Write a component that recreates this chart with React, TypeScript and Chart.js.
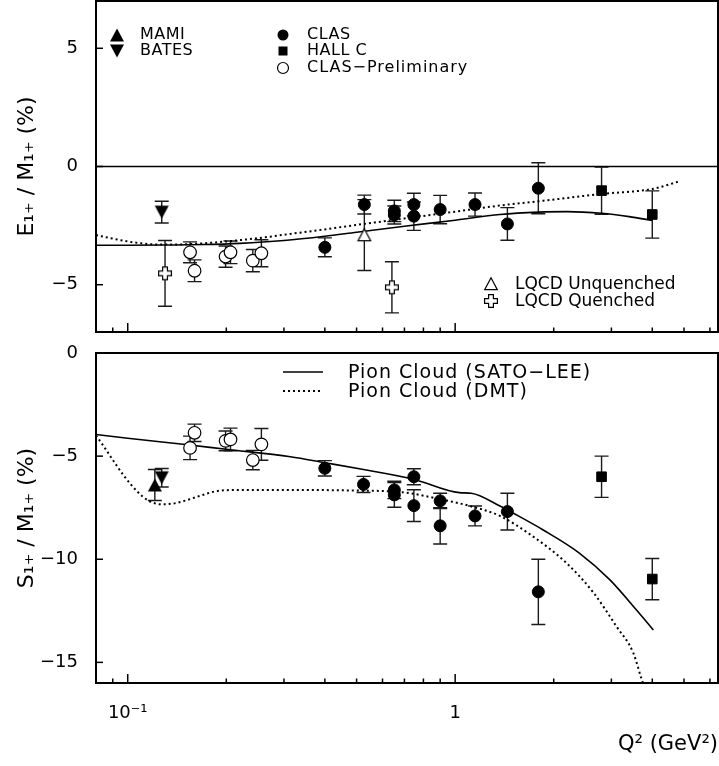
import React, { useEffect, useRef } from 'react';
import { Chart, registerables } from 'chart.js';

Chart.register(...registerables);

const FONT = '"DejaVu Sans", "Liberation Sans", sans-serif';
const INK = '#000000';

// ---------- axes ----------
const X_MIN = 0.08;
const X_MAX = 6.35;
const xTickValues = [0.08, 0.09, 0.1, 0.2, 0.3, 0.4, 0.5, 0.6, 0.7, 0.8, 0.9, 1, 2, 3, 4, 5, 6];
const xMajorValues = [0.1, 1];
const xLabelValues = [0.1, 1];
const xLabelTexts = ['10⁻¹', '1'];

const emMin = -7;
const emMax = 7;
const emTickValues = [-5, 0, 5];
const smMin = -16;
const smMax = 0;
const smTickValues = [-15, -10, -5, 0];

// ---------- E1+/M1+ (top panel) ----------
const emClasQ = [0.40, 0.528, 0.652, 0.652, 0.748, 0.748, 0.90, 1.15, 1.444, 1.795];
const emClasVal = [-3.42, -1.61, -1.88, -2.05, -1.61, -2.1, -1.82, -1.61, -2.43, -0.92];
const emClasErr = [0.4, 0.4, 0.45, 0.38, 0.48, 0.6, 0.6, 0.49, 0.69, 1.08];

const emHallCQ = [2.8, 4.0];
const emHallCVal = [-1.02, -2.03];
const emHallCErr = [1.0, 1.0];

const emPrelQ = [0.155, 0.160, 0.199, 0.206, 0.241, 0.256];
const emPrelVal = [-3.63, -4.41, -3.81, -3.63, -3.98, -3.67];
const emPrelErr = [0.44, 0.46, 0.45, 0.48, 0.47, 0.57];

const emBatesQ = [0.127];
const emBatesVal = [-1.93];
const emBatesErr = [0.46];

const emLqcdUnqQ = [0.528];
const emLqcdUnqVal = [-2.9];
const emLqcdUnqErr = [1.5];

const emLqcdQQ = [0.130, 0.641];
const emLqcdQVal = [-4.52, -5.11];
const emLqcdQErr = [1.39, 1.08];

const emSatoQ = [0.08, 0.1, 0.13, 0.17, 0.22, 0.3, 0.4, 0.5, 0.7, 1.0, 1.37, 1.8, 2.2, 2.8, 3.4, 4.0];
const emSatoVal = [-3.33, -3.33, -3.32, -3.3, -3.25, -3.13, -2.95, -2.78, -2.53, -2.27, -2.03, -1.93, -1.91, -1.98, -2.12, -2.28];

const emDmtQ = [0.08, 0.09, 0.1, 0.11, 0.125, 0.14, 0.17, 0.2, 0.25, 0.314, 0.4, 0.5, 0.7, 1.0, 1.37, 1.8, 2.8, 4.0, 4.86];
const emDmtVal = [-2.9, -3.05, -3.17, -3.25, -3.3, -3.3, -3.25, -3.17, -3.03, -2.85, -2.66, -2.47, -2.2, -1.91, -1.65, -1.47, -1.16, -0.95, -0.62];

// ---------- S1+/M1+ (bottom panel) ----------
const smClasQ = [0.40, 0.525, 0.652, 0.652, 0.748, 0.748, 0.90, 0.90, 1.15, 1.444, 1.795];
const smClasVal = [-5.59, -6.37, -6.64, -6.88, -6.0, -7.4, -7.17, -8.38, -7.9, -7.69, -11.58];
const smClasErr = [0.37, 0.39, 0.42, 0.6, 0.39, 0.77, 0.37, 0.88, 0.48, 0.89, 1.58];

const smHallCQ = [2.8, 4.0];
const smHallCVal = [-6.0, -10.96];
const smHallCErr = [1.0, 1.0];

const smPrelQ = [0.155, 0.160, 0.199, 0.206, 0.241, 0.256];
const smPrelVal = [-4.6, -3.87, -4.26, -4.19, -5.19, -4.43];
const smPrelErr = [0.57, 0.42, 0.48, 0.55, 0.47, 0.77];

const smMamiQ = [0.121];
const smMamiVal = [-6.4];
const smMamiErr = [0.75];

const smBatesQ = [0.127];
const smBatesVal = [-6.05];
const smBatesErr = [0.45];

const smSatoQ = [0.08, 0.1, 0.15, 0.2, 0.314, 0.4, 0.52, 0.75, 1.03, 1.12, 1.37, 1.507, 1.858, 2.4, 2.97, 3.58, 4.03];
const smSatoVal = [-3.95, -4.13, -4.44, -4.67, -5.03, -5.32, -5.64, -6.13, -6.77, -6.8, -7.42, -7.77, -8.58, -9.71, -11.0, -12.46, -13.43];

const smDmtQ = [0.08, 0.0846, 0.0887, 0.097, 0.107, 0.116, 0.127, 0.142, 0.163, 0.188, 0.221, 0.314, 0.5, 0.69, 0.9, 1.11, 1.37, 1.73, 2.19, 2.65, 3.11, 3.5, 3.7, 3.8];
const smDmtVal = [-4.0, -4.54, -5.03, -5.92, -6.72, -7.17, -7.34, -7.26, -6.97, -6.69, -6.64, -6.64, -6.67, -6.75, -7.09, -7.42, -7.9, -8.9, -10.19, -11.64, -13.26, -14.54, -15.75, -16.3];

// ---------- helpers ----------
const pts = (q: number[], v: number[]) => q.map((x, i) => ({ x, y: v[i] }));
const minus = (s: string) => s.replace('-', '\u2212');

function makeCanvas(w: number, h: number, draw: (g: CanvasRenderingContext2D) => void) {
  const c = document.createElement('canvas');
  c.width = w;
  c.height = h;
  const g = c.getContext('2d') as CanvasRenderingContext2D;
  draw(g);
  return c;
}

function makeMarkers() {
  const triUp = makeCanvas(16, 16, (g) => {
    g.beginPath();
    g.moveTo(8, 1.5); g.lineTo(15, 14.5); g.lineTo(1, 14.5); g.closePath();
    g.fillStyle = INK; g.fill();
  });
  const triDown = makeCanvas(16, 16, (g) => {
    g.beginPath();
    g.moveTo(1, 1.5); g.lineTo(15, 1.5); g.lineTo(8, 14.5); g.closePath();
    g.fillStyle = INK; g.fill();
  });
  const triUpOpen = makeCanvas(16, 16, (g) => {
    g.beginPath();
    g.moveTo(8, 1.8); g.lineTo(14.3, 13.6); g.lineTo(1.7, 13.6); g.closePath();
    g.fillStyle = '#fff'; g.fill();
    g.lineWidth = 1.2; g.strokeStyle = INK; g.stroke();
  });
  const crossOpen = makeCanvas(16, 16, (g) => {
    const c = 8, a = 2.4, L = 6.4;
    g.beginPath();
    g.moveTo(c - a, c - L); g.lineTo(c + a, c - L); g.lineTo(c + a, c - a); g.lineTo(c + L, c - a);
    g.lineTo(c + L, c + a); g.lineTo(c + a, c + a); g.lineTo(c + a, c + L); g.lineTo(c - a, c + L);
    g.lineTo(c - a, c + a); g.lineTo(c - L, c + a); g.lineTo(c - L, c - a); g.lineTo(c - a, c - a);
    g.closePath();
    g.fillStyle = '#fff'; g.fill();
    g.lineWidth = 1.2; g.strokeStyle = INK; g.stroke();
  });
  return { triUp, triDown, triUpOpen, crossOpen };
}

const errorBarPlugin = {
  id: 'errorBars',
  beforeDatasetsDraw(chart: any) {
    const { ctx, chartArea: a, scales } = chart;
    const x = scales.x, y = scales.y;
    ctx.save();
    ctx.beginPath();
    ctx.rect(a.left, a.top, a.right - a.left, a.bottom - a.top);
    ctx.clip();
    ctx.strokeStyle = '#1a1a1a';
    ctx.lineWidth = 1.4;
    chart.data.datasets.forEach((ds: any) => {
      if (!ds.errors) return;
      ds.data.forEach((p: any, i: number) => {
        const e = ds.errors[i];
        const px = x.getPixelForValue(p.x);
        const y1 = y.getPixelForValue(p.y + e);
        const y2 = y.getPixelForValue(p.y - e);
        const cap = 7;
        ctx.beginPath();
        ctx.moveTo(px, y1); ctx.lineTo(px, y2);
        ctx.moveTo(px - cap, y1); ctx.lineTo(px + cap, y1);
        ctx.moveTo(px - cap, y2); ctx.lineTo(px + cap, y2);
        ctx.stroke();
      });
    });
    ctx.restore();
  },
};

const framePlugin = {
  id: 'frame',
  afterDraw(chart: any, _args: any, opts: any) {
    const { ctx, chartArea: a, scales } = chart;
    const x = scales.x, y = scales.y;
    ctx.save();
    ctx.strokeStyle = INK;
    if (opts.zeroLine) {
      ctx.lineWidth = 1.5;
      const py = y.getPixelForValue(0);
      ctx.beginPath(); ctx.moveTo(a.left, py); ctx.lineTo(a.right, py); ctx.stroke();
    }
    ctx.lineWidth = 1.5;
    xTickValues.forEach((v) => {
      const px = x.getPixelForValue(v);
      const len = xMajorValues.includes(v) ? 9 : 4.5;
      ctx.beginPath(); ctx.moveTo(px, a.bottom); ctx.lineTo(px, a.bottom - len); ctx.stroke();
    });
    (opts.yTicks || []).forEach((v: number) => {
      const py = y.getPixelForValue(v);
      ctx.beginPath(); ctx.moveTo(a.left, py); ctx.lineTo(a.left + 7, py); ctx.stroke();
    });
    ctx.lineWidth = 2;
    ctx.strokeRect(a.left, a.top, a.right - a.left, a.bottom - a.top);
    ctx.restore();
  },
};

function curve(data: any[], dotted: boolean) {
  return {
    data,
    showLine: true,
    pointRadius: 0,
    pointHoverRadius: 0,
    borderColor: INK,
    borderWidth: dotted ? 2 : 1.6,
    borderDash: dotted ? [2, 3] : [],
    cubicInterpolationMode: 'monotone',
    fill: false,
    order: 1,
  };
}

function markers(data: any[], errors: number[], style: any, radius: number, fill: string, bw: number) {
  return {
    data,
    errors,
    showLine: false,
    pointStyle: style,
    pointRadius: radius,
    pointHoverRadius: radius,
    pointBackgroundColor: fill,
    pointBorderColor: INK,
    pointBorderWidth: bw,
    order: 0,
  };
}

const zeroPad = (s: any) => {
  s.paddingTop = 0;
  s.paddingBottom = 0;
  s.paddingLeft = 0;
  s.paddingRight = 0;
};

function baseOptions(opts: {
  yMin: number; yMax: number; yTicks: number[]; yTitle: string;
  showXLabels: boolean; xHeight: number; padTop: number; zeroLine: boolean;
}) {
  return {
    responsive: false,
    animation: false,
    events: [],
    layout: { autoPadding: false, padding: { top: opts.padTop, right: 1, left: 0, bottom: 0 } },
    plugins: {
      legend: { display: false },
      tooltip: { enabled: false },
      frame: { zeroLine: opts.zeroLine, yTicks: opts.yTicks },
    },
    scales: {
      x: {
        type: 'logarithmic',
        min: X_MIN,
        max: X_MAX,
        grid: { display: false, drawTicks: false },
        border: { display: false },
        afterBuildTicks: (s: any) => { s.ticks = xTickValues.map((v) => ({ value: v })); },
        afterFit: (s: any) => { s.height = opts.xHeight; zeroPad(s); },
        ticks: {
          display: opts.showXLabels,
          autoSkip: false,
          maxRotation: 0,
          padding: 20,
          color: INK,
          font: { family: FONT, size: 18 },
          callback: (v: number) => {
            const k = xLabelValues.findIndex((t) => Math.abs(t - v) < 1e-9);
            return k >= 0 ? xLabelTexts[k] : '';
          },
        },
        title: {
          display: opts.showXLabels,
          text: 'Q² (GeV²)',
          align: 'end',
          color: INK,
          font: { family: FONT, size: 21 },
          padding: { top: 0, bottom: 9 },
        },
      },
      y: {
        type: 'linear',
        min: opts.yMin,
        max: opts.yMax,
        grid: { display: false, drawTicks: false },
        border: { display: false },
        afterBuildTicks: (s: any) => { s.ticks = opts.yTicks.map((v) => ({ value: v })); },
        afterFit: (s: any) => { s.width = 96; zeroPad(s); },
        ticks: {
          padding: 18,
          color: INK,
          font: { family: FONT, size: 18 },
          callback: (v: number) => minus(String(v)),
        },
        title: {
          display: true,
          text: opts.yTitle,
          color: INK,
          font: { family: FONT, size: 22 },
          padding: { top: 14, bottom: 0 },
        },
      },
    },
  };
}

function drawImg(ctx: CanvasRenderingContext2D, img: HTMLCanvasElement, cx: number, cy: number) {
  ctx.drawImage(img, cx - img.width / 2, cy - img.height / 2);
}

export default function App() {
  const topRef = useRef<HTMLCanvasElement | null>(null);
  const botRef = useRef<HTMLCanvasElement | null>(null);

  useEffect(() => {
    const mk = makeMarkers();

    const topLegend = {
      id: 'topLegend',
      afterDraw(chart: any) {
        const ctx: any = chart.ctx;
        ctx.save();
        ctx.fillStyle = INK;
        ctx.strokeStyle = INK;
        ctx.textBaseline = 'middle';
        ctx.textAlign = 'left';
        ctx.font = `16px ${FONT}`;
        ctx.letterSpacing = '0.5px';
        drawImg(ctx, mk.triUp, 117, 35);
        ctx.fillText('MAMI', 140, 35);
        drawImg(ctx, mk.triDown, 117, 51);
        ctx.fillText('BATES', 140, 51);
        ctx.beginPath(); ctx.arc(283, 35, 5.5, 0, Math.PI * 2); ctx.fill();
        ctx.fillText('CLAS', 307, 35);
        ctx.fillRect(278.5, 46.5, 9, 9);
        ctx.fillText('HALL C', 307, 51);
        ctx.lineWidth = 1.2;
        ctx.beginPath(); ctx.arc(283, 68, 5.5, 0, Math.PI * 2); ctx.stroke();
        ctx.letterSpacing = '1px';
        ctx.fillText('CLAS\u2212Preliminary', 307, 68);
        ctx.letterSpacing = '0px';
        ctx.font = `17px ${FONT}`;
        drawImg(ctx, mk.triUpOpen, 491, 284);
        ctx.fillText('LQCD Unquenched', 515, 285);
        drawImg(ctx, mk.crossOpen, 491, 301);
        ctx.fillText('LQCD Quenched', 515, 302);
        ctx.restore();
      },
    };

    const botLegend = {
      id: 'botLegend',
      afterDraw(chart: any) {
        const ctx: any = chart.ctx;
        ctx.save();
        ctx.fillStyle = INK;
        ctx.strokeStyle = INK;
        ctx.lineWidth = 1.6;
        ctx.beginPath(); ctx.moveTo(283, 32); ctx.lineTo(323, 32); ctx.stroke();
        ctx.lineWidth = 2;
        ctx.setLineDash([2, 3]);
        ctx.beginPath(); ctx.moveTo(283, 51); ctx.lineTo(323, 51); ctx.stroke();
        ctx.setLineDash([]);
        ctx.textBaseline = 'middle';
        ctx.textAlign = 'left';
        ctx.font = `19px ${FONT}`;
        ctx.letterSpacing = '1px';
        ctx.fillText('Pion Cloud (SATO\u2212LEE)', 348, 33);
        ctx.fillText('Pion Cloud (DMT)', 348, 52);
        ctx.letterSpacing = '0px';
        ctx.restore();
      },
    };

    const topChart = new Chart(topRef.current as HTMLCanvasElement, {
      type: 'scatter',
      data: {
        datasets: [
          markers(pts(emClasQ, emClasVal), emClasErr, 'circle', 6, INK, 1),
          markers(pts(emHallCQ, emHallCVal), emHallCErr, 'rect', 6.8, INK, 1),
          markers(pts(emPrelQ, emPrelVal), emPrelErr, 'circle', 6.3, '#ffffff', 1.2),
          markers(pts(emBatesQ, emBatesVal), emBatesErr, mk.triDown, 8, INK, 0),
          markers(pts(emLqcdUnqQ, emLqcdUnqVal), emLqcdUnqErr, mk.triUpOpen, 8, '#ffffff', 0),
          markers(pts(emLqcdQQ, emLqcdQVal), emLqcdQErr, mk.crossOpen, 8, '#ffffff', 0),
          curve(pts(emSatoQ, emSatoVal), false),
          curve(pts(emDmtQ, emDmtVal), true),
        ] as any,
      },
      options: baseOptions({
        yMin: emMin, yMax: emMax, yTicks: emTickValues, yTitle: 'E\u2081\u208A / M\u2081\u208A (%)',
        showXLabels: false, xHeight: 8, padTop: 1, zeroLine: true,
      }) as any,
      plugins: [errorBarPlugin, framePlugin, topLegend] as any,
    });

    const botChart = new Chart(botRef.current as HTMLCanvasElement, {
      type: 'scatter',
      data: {
        datasets: [
          markers(pts(smClasQ, smClasVal), smClasErr, 'circle', 6, INK, 1),
          markers(pts(smHallCQ, smHallCVal), smHallCErr, 'rect', 6.8, INK, 1),
          markers(pts(smPrelQ, smPrelVal), smPrelErr, 'circle', 6.3, '#ffffff', 1.2),
          markers(pts(smMamiQ, smMamiVal), smMamiErr, mk.triUp, 8, INK, 0),
          markers(pts(smBatesQ, smBatesVal), smBatesErr, mk.triDown, 8, INK, 0),
          curve(pts(smSatoQ, smSatoVal), false),
          curve(pts(smDmtQ, smDmtVal), true),
        ] as any,
      },
      options: baseOptions({
        yMin: smMin, yMax: smMax, yTicks: smTickValues, yTitle: 'S\u2081\u208A / M\u2081\u208A (%)',
        showXLabels: true, xHeight: 83, padTop: 13, zeroLine: false,
      }) as any,
      plugins: [errorBarPlugin, framePlugin, botLegend] as any,
    });

    return () => {
      topChart.destroy();
      botChart.destroy();
    };
  }, []);

  return (
    <div style={{ position: 'absolute', left: 0, top: 0, width: 719, height: 766, background: '#fff' }}>
      <canvas ref={topRef} width={719} height={340}
        style={{ position: 'absolute', left: 0, top: 0, width: 719, height: 340 }} />
      <canvas ref={botRef} width={719} height={426}
        style={{ position: 'absolute', left: 0, top: 340, width: 719, height: 426 }} />
    </div>
  );
}
